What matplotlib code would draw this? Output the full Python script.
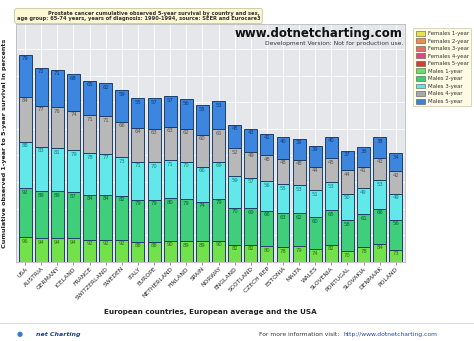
import matplotlib.pyplot as plt
import matplotlib.patches as mpatches
import numpy as np

# countries along the x axis
countries = ['USA', 'AUSTRIA', 'GERMANY', 'ICELAND', 'FRANCE', 'SWITZERLAND', 'SWEDEN',
             'ITALY', 'EUROPE', 'NETHERLAND', 'FINLAND', 'SPAIN', 'NORWAY', 'ENGLAND',
             'SCOTLAND', 'CZECH REP', 'ESTONIA', 'MALTA', 'WALES', 'SLOVENIA', 'PORTUGAL',
             'SLOVAKIA', 'DENMARK', 'POLAND']

# males survival, 1-year to 5-year (percent)
males_1 = [96, 94, 94, 94, 92, 92, 92, 88, 88, 90, 89, 89, 90, 82, 82, 80, 78, 79, 74, 82, 70, 78, 84, 73]
males_2 = [92, 89, 89, 87, 84, 84, 82, 79, 79, 80, 79, 74, 79, 70, 69, 66, 63, 62, 60, 65, 58, 61, 66, 56]
males_3 = [88, 83, 81, 79, 78, 77, 73, 71, 70, 71, 70, 66, 69, 59, 57, 56, 55, 53, 51, 53, 50, 49, 53, 49]
males_4 = [84, 77, 76, 74, 71, 71, 66, 64, 63, 63, 62, 60, 61, 52, 49, 48, 48, 48, 44, 45, 44, 41, 43, 42]
males_5 = [79, 72, 71, 68, 65, 62, 59, 55, 57, 57, 56, 55, 53, 45, 43, 41, 40, 39, 39, 40, 37, 36, 38, 34]

legend_names = ['Females 1-year', 'Females 2-year', 'Females 3-year', 'Females 4-year',
                'Females 5-year', 'Males 1-year', 'Males 2-year', 'Males 3-year',
                'Males 4-year', 'Males 5-year']
legend_colors = ['#e6e64a', '#e8904a', '#e86a6a', '#d9487f', '#d83a3a',
                 '#66e066', '#3ccc80', '#5ee6e6', '#a8a8a8', '#3a82dc']

male_series = [males_1, males_2, males_3, males_4, males_5]
male_colors = ['#72e24a', '#3fcf7a', '#62e8e8', '#b8b8b8', '#3d86e0']
label_colors = ['#2f6b1a', '#145c38', '#1d7a86', '#555555', '#14386e']

fig = plt.figure(figsize=(4.74, 3.41), dpi=100)
fig.patch.set_facecolor('white')
ax = fig.add_axes([0.034, 0.232, 0.82, 0.698])
ax.set_facecolor('#e6e7eb')

x = np.arange(len(countries))
bottom = np.zeros(len(countries))
for vals, col, lcol in zip(male_series, male_colors, label_colors):
    vals = np.array(vals)
    ax.bar(x, vals, bottom=bottom, width=0.8, color=col, edgecolor='#1f3f6a',
           linewidth=0.7, zorder=3)
    for xi, b, v in zip(x, bottom, vals):
        ax.text(xi, b + v - 3, str(v), ha='center', va='top', fontsize=3.8,
                color=lcol, zorder=4)
    bottom = bottom + vals

ax.set_xlim(-0.56, 23.56)
ax.set_ylim(50, 497)
ax.set_yticks(np.arange(50, 500, 50))
ax.set_yticklabels([])
ax.tick_params(axis='y', length=0)
ax.set_xticks(x)
ax.set_xticklabels(countries, rotation=45, ha='right', rotation_mode='anchor',
                   fontsize=4.3, color='#222222')
ax.tick_params(axis='x', length=2, width=0.5, pad=1, color='#666666')
ax.grid(True, color='white', linewidth=0.6, zorder=0)
for s in ax.spines.values():
    s.set_color('#bbbbbb')
    s.set_linewidth(0.6)

ax.set_ylabel('Cumulative observed 1-year to 5-year survival in percents',
              fontsize=4.6, fontweight='bold', color='#222222', labelpad=3)
ax.set_xlabel('European countries, European average and the USA',
              fontsize=5.2, fontweight='bold', color='#222222', labelpad=6)

# watermark
ax.text(0.995, 0.985, 'www.dotnetcharting.com', transform=ax.transAxes, ha='right',
        va='top', fontsize=8.5, fontweight='bold', color='#111111', zorder=5)
ax.text(0.995, 0.93, 'Development Version: Not for production use.', transform=ax.transAxes,
        ha='right', va='top', fontsize=4.3, color='#333333', zorder=5)

# title box
fig.text(0.292, 0.953,
         'Prostate cancer cumulative observed 5-year survival by country and sex,\n'
         'age group: 65-74 years, years of diagnosis: 1990-1994, source: SEER and Eurocare3',
         ha='center', va='center', fontsize=3.7, fontweight='bold', color='#333333',
         linespacing=1.2, multialignment='right',
         bbox=dict(boxstyle='round,pad=0.4', facecolor='#fdf8d4', edgecolor='#c9c39a',
                   linewidth=0.6))

# legend
handles = [mpatches.Patch(facecolor=c, edgecolor='#555555', linewidth=0.4, label=n)
           for n, c in zip(legend_names, legend_colors)]
leg = fig.legend(handles=handles, loc='upper left', bbox_to_anchor=(0.866, 0.925),
                 fontsize=3.9, frameon=True, handlelength=1.8, handleheight=1.0,
                 handletextpad=0.4, labelspacing=0.42, borderpad=0.45)
leg.get_frame().set_facecolor('#fdfbdc')
leg.get_frame().set_edgecolor('#c9c39a')
leg.get_frame().set_linewidth(0.6)
for t in leg.get_texts():
    t.set_color('#333333')

# footer
fig.add_artist(plt.Line2D([0.0, 1.0], [0.052, 0.052], color='#dddddd', linewidth=0.8))
fig.text(0.075, 0.018, 'net Charting', fontsize=4.5, fontweight='bold',
         fontstyle='italic', color='#1b3e8a', ha='left', va='center')
fig.text(0.035, 0.02, '\u25cf', fontsize=5, color='#3a7bd5', ha='left', va='center')
fig.text(0.715, 0.018, 'For more information visit:', fontsize=4.3, color='#333333',
         ha='right', va='center')
fig.text(0.725, 0.018, 'http://www.dotnetcharting.com', fontsize=4.3, color='#2244aa',
         ha='left', va='center')

fig.savefig('out.png', dpi=100)
